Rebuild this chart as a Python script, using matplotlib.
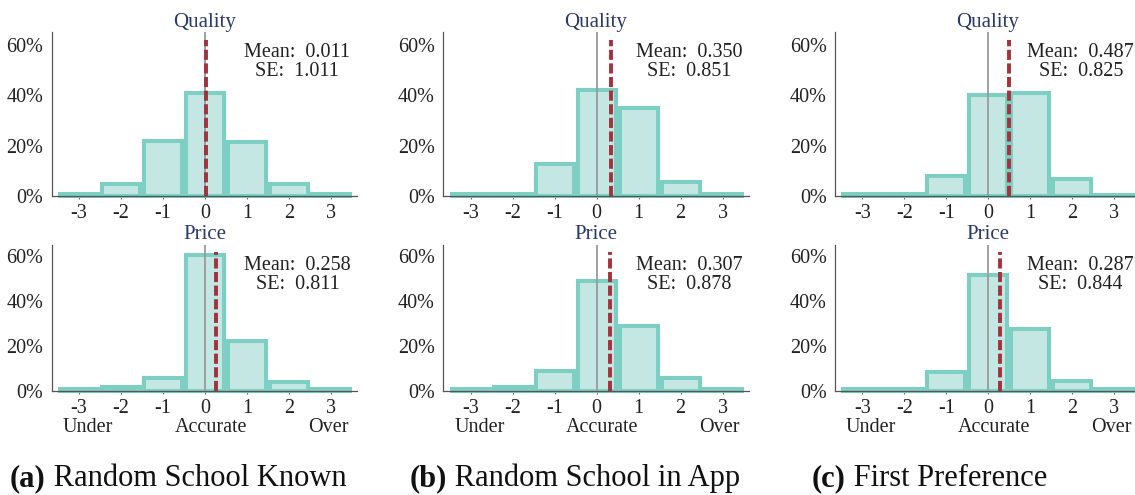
import matplotlib
matplotlib.use("Agg")
import matplotlib.pyplot as plt
import numpy as np

plt.rcParams['font.family'] = ['Liberation Serif', 'DejaVu Serif']

# error categories (reported minus true)
cats = [-3, -2, -1, 0, 1, 2, 3]

# share of respondents in each error bin, in %
known_quality = [0.9, 4.9, 21.9, 40.9, 21.6, 4.9, 0.7]
known_price = [1.0, 1.9, 5.7, 60.6, 22.5, 3.9, 1.0]
app_quality = [0.9, 0.7, 12.6, 42.0, 35.1, 5.6, 0.7]
app_price = [1.0, 1.6, 9.1, 49.0, 28.9, 5.8, 0.9]
first_quality = [0.7, 0.7, 7.9, 40.1, 40.8, 6.8, 0.4]
first_price = [1.0, 0.9, 8.3, 51.7, 27.6, 4.6, 0.7]

means = {"a": (0.011, 0.258), "b": (0.350, 0.307), "c": (0.487, 0.287)}
ses = {"a": (1.011, 0.811), "b": (0.851, 0.878), "c": (0.825, 0.844)}

captions = {"a": "Random School Known", "b": "Random School in App", "c": "First Preference"}
panel_data = {"a": (known_quality, known_price),
              "b": (app_quality, app_price),
              "c": (first_quality, first_price)}

face = "#c4e7e3"
edge = "#7dcec3"
red = "#a2323b"
navy = "#2b3a66"

fig = plt.figure(figsize=(11.35, 4.95), dpi=100)

lefts = [0.0456, 0.3906, 0.7357]
w = 0.269
rows = [(0.604, 0.331, "Quality"), (0.210, 0.295, "Price")]

for col, key in enumerate(["a", "b", "c"]):
    for r, (bot, h, name) in enumerate(rows):
        ax = fig.add_axes([lefts[col], bot, w, h])
        vals = np.array(panel_data[key][r]) / 100
        ax.bar(cats, vals, width=0.9, color=face, edgecolor=edge, linewidth=2.9,
               clip_on=False, zorder=2)
        ax.axvline(0, color="#9a9a9a", lw=1.3, zorder=3)
        m = means[key][r]
        ax.plot([m, m], [0, 0.62], color=red, lw=2.8, dashes=(2.6, 0.9), zorder=4)
        ax.set_xlim(-3.65, 3.62)
        ax.set_ylim(0, 0.65)
        ax.set_yticks([0, 0.2, 0.4, 0.6])
        ax.set_yticklabels(["0%", "20%", "40%", "60%"])
        ax.set_xticks(cats)
        ax.set_xticklabels([str(c) for c in cats])
        ax.tick_params(axis="y", length=0, pad=6, labelsize=14.5, colors="#222222")
        ax.tick_params(axis="x", length=2.5, width=0.8, pad=3, labelsize=14.5,
                       colors="#222222", color="#666666")
        for s in ["top", "right"]:
            ax.spines[s].set_visible(False)
        for s in ["left", "bottom"]:
            ax.spines[s].set_color("#555555")
            ax.spines[s].set_linewidth(0.9)
        ax.set_title(name, color=navy, fontsize=15, pad=4)
        ax.annotate("Mean:  %.3f\nSE:  %.3f" % (m, ses[key][r]),
                    xy=(2.2, 1), xycoords=("data", "axes fraction"),
                    xytext=(0, -8), textcoords="offset points",
                    ha="center", va="top", fontsize=14.5, linespacing=1.0,
                    color="#222222")
        if r == 1:
            for lx, lab in [(-2.79, "Under"), (0.14, "Accurate"), (2.93, "Over")]:
                ax.annotate(lab, xy=(lx, 0), xycoords=("data", "axes fraction"),
                            xytext=(0, -26), textcoords="offset points",
                            ha="center", va="center", fontsize=14.5,
                            color="#222222", annotation_clip=False)

# panel captions: bold letter, regular text after it
cap_x = [10 / 1135, 410 / 1135, 812 / 1135]
for x, key in zip(cap_x, ["a", "b", "c"]):
    t = fig.text(x, 0.018, "(%s)" % key, fontsize=22, fontweight="bold",
                 ha="left", va="baseline", color="#111111")
    plt.annotate(" " + captions[key], xy=(1, 0), xycoords=t, ha="left",
                 va="bottom", fontsize=22, color="#111111")

fig.savefig("out.png", dpi=100)
